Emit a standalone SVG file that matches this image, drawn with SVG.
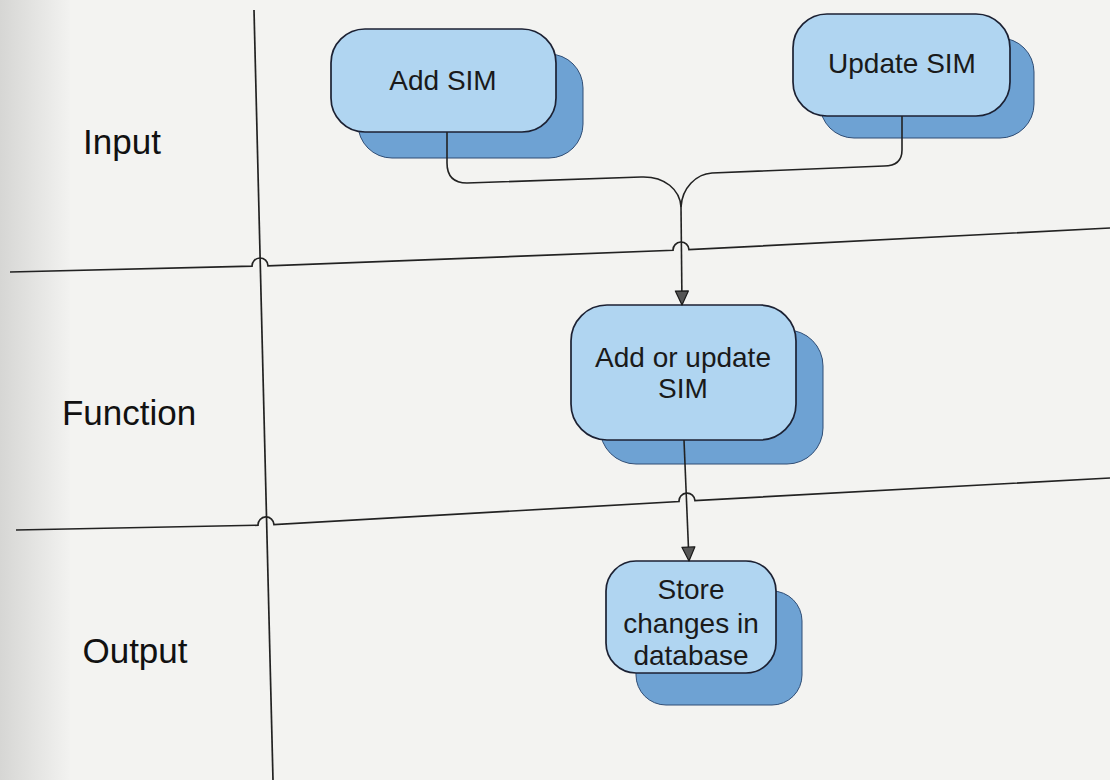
<svg xmlns="http://www.w3.org/2000/svg" width="1110" height="780" viewBox="0 0 1110 780">
  <defs>
    <linearGradient id="edge" x1="0" y1="0" x2="1" y2="0">
      <stop offset="0" stop-color="#d6d6d4"/>
      <stop offset="1" stop-color="#f2f2f0"/>
    </linearGradient>
    <marker id="arrow" markerUnits="userSpaceOnUse" markerWidth="16" markerHeight="16" viewBox="0 0 16 16" refX="15" refY="7.5" orient="auto">
      <path d="M1,1 L15,7.5 L1,14 z" fill="#555" stroke="#1a1a1a" stroke-width="1.2" stroke-linejoin="round"/>
    </marker>
    <style>
      .lane { fill: none; stroke: #222; stroke-width: 1.7; }
      .conn { fill: none; stroke: #222; stroke-width: 1.6; }
      .shadow { fill: #6ea2d3; stroke: #2f4d75; stroke-width: 1; }
      .front { fill: #b0d5f1; stroke: #1c2133; stroke-width: 1.7; }
      .label { font-family: "Liberation Sans", Arial, sans-serif; font-size: 35px; fill: #111; text-anchor: middle; }
      .ntext { font-family: "Liberation Sans", Arial, sans-serif; font-size: 28px; fill: #1a1a1a; text-anchor: middle; }
    </style>
  </defs>

  <rect x="0" y="0" width="1110" height="780" fill="#f3f3f1"/>
  <rect x="0" y="0" width="70" height="780" fill="url(#edge)"/>

  <g id="lanes">
    <path class="lane" d="M 254 10 L 273 780"/>
    <path class="lane" d="M 10 272 L 252 266.2 A 8 8 0 0 1 268 265.8 L 673 250.3 A 8 8 0 0 1 689 249.7 L 1110 228"/>
    <path class="lane" d="M 16 530 L 258 525.2 A 8 8 0 0 1 274 524.6 L 679 501.5 A 8 8 0 0 1 695 500.6 L 1110 478"/>
  </g>

  <g id="lane-labels">
    <text class="label" x="122" y="154">Input</text>
    <text class="label" x="129" y="425">Function</text>
    <text class="label" x="135" y="663">Output</text>
  </g>

  <g id="node-add-sim">
    <rect class="shadow" x="358" y="54" width="225" height="104" rx="34"/>
    <rect class="front" x="331" y="29" width="225" height="103" rx="34"/>
    <text class="ntext" x="443" y="90">Add SIM</text>
  </g>

  <g id="node-update-sim">
    <rect class="shadow" x="820" y="38" width="214" height="100" rx="34"/>
    <rect class="front" x="793" y="14" width="217" height="102" rx="34"/>
    <text class="ntext" x="902" y="73">Update SIM</text>
  </g>

  <g id="node-add-or-update">
    <rect class="shadow" x="600" y="330" width="223" height="134" rx="36"/>
    <rect class="front" x="571" y="305" width="225" height="135" rx="36"/>
    <text class="ntext" x="683" y="367">Add or update</text>
    <text class="ntext" x="683" y="398">SIM</text>
  </g>

  <g id="node-store">
    <rect class="shadow" x="636" y="591" width="166" height="114" rx="30"/>
    <rect class="front" x="606" y="561" width="170" height="112" rx="30"/>
    <text class="ntext" x="691" y="599">Store</text>
    <text class="ntext" x="691" y="633">changes in</text>
    <text class="ntext" x="691" y="665">database</text>
  </g>

  <g id="connectors">
    <path class="conn" d="M 447 132 L 447 163 Q 447 183 467 183 L 641 177 C 665 176 680 190 681 207"/>
    <path class="conn" d="M 902 116 L 902 150 Q 902 166 884 166 L 712 173 C 696 174 682 188 681 207"/>
    <path class="conn" d="M 681 207 L 682 305" marker-end="url(#arrow)"/>
    <path class="conn" d="M 684 440 L 689 561" marker-end="url(#arrow)"/>
  </g>
</svg>
